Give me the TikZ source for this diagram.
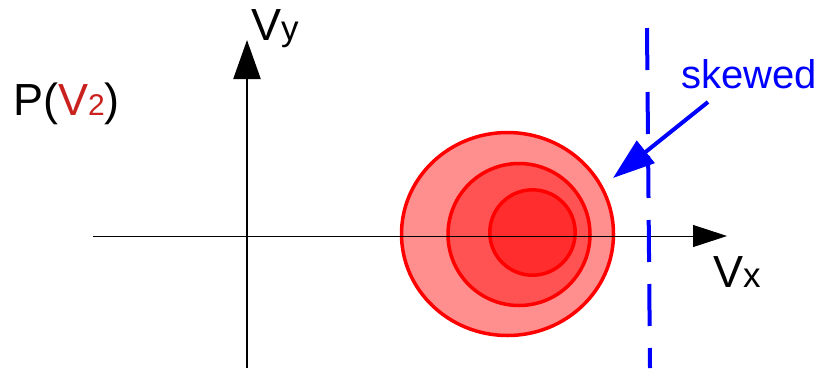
\documentclass[tikz,border=0pt]{standalone}
\usepackage{fontspec}
\setmainfont{Liberation Sans}
\usetikzlibrary{arrows.meta,positioning,calc}
\definecolor{PvRed}{RGB}{255,0,0}
\definecolor{PvDarkRed}{RGB}{201,33,30}
\definecolor{PvOuter}{RGB}{255,142,142}
\definecolor{PvMiddle}{RGB}{255,82,82}
\definecolor{PvInner}{RGB}{255,45,45}
\definecolor{PvBlue}{RGB}{0,0,255}
\newcommand{\pvsmall}{\fontsize{35}{42}\selectfont}
\newcommand{\pvsub}{\fontsize{30}{36}\selectfont}
\tikzset{
  pv/ring/.style={draw=PvRed, line width=3.5pt},
  pv/xaxis/.style={draw=black, line width=0.9pt, -{Triangle[length=34pt,width=22pt]}},
  pv/yaxis/.style={draw=black, line width=2.4pt, -{Triangle[length=39pt,width=27pt]}},
  pv/bound/.style={draw=PvBlue, line width=4pt, dash pattern=on 42pt off 22pt},
  pv/pointer/.style={draw=PvBlue, line width=4pt, -{Triangle[length=42pt,width=28pt]}},
  pv/label/.style={inner sep=0pt, anchor=base west, font=\fontsize{45}{54}\selectfont},
  pv/note/.style={inner sep=0pt, anchor=base west, text=PvBlue, font=\fontsize{40}{48}\selectfont}
}
\begin{document}
\begin{tikzpicture}[x=1pt,y=-1pt]
  \useasboundingbox (0,0) rectangle (818,368);
  % distribution rings
  \draw[pv/ring, fill=PvOuter] (507.5,234) ellipse [x radius=106pt, y radius=101.5pt];
  \draw[pv/ring, fill=PvMiddle] (519,234.5) circle [radius=71pt];
  \draw[pv/ring, fill=PvInner] (532.5,232.5) circle [radius=42.7pt];
  % axes
  \coordinate (xstart) at (93,236);
  \coordinate (xend) at (727,236);
  \coordinate (ystart) at (247,368);
  \coordinate (yend) at (247,40);
  \draw[pv/xaxis] (xstart) -- (xend);
  \draw[pv/yaxis] (ystart) -- (yend);
  \node[pv/label] (vx) at (713,287) {V\pvsmall x};
  \node[pv/label] (vy) at (251,40) {V\pvsmall y};
  \node[pv/label] (prob) at (13,115) {P(\textcolor{PvDarkRed}{V\pvsub 2})};
  % skew boundary
  \coordinate (btop) at (647,28);
  \coordinate (bbot) at (650,368);
  \draw[pv/bound] (btop) -- (bbot);
  \node[pv/note] (skewed) at (681,88) {skewed};
  \coordinate (skewtail) at (708,102);
  \coordinate (skewtip) at (613,178);
  \draw[pv/pointer] (skewtail) -- (skewtip);
\end{tikzpicture}
\end{document}
